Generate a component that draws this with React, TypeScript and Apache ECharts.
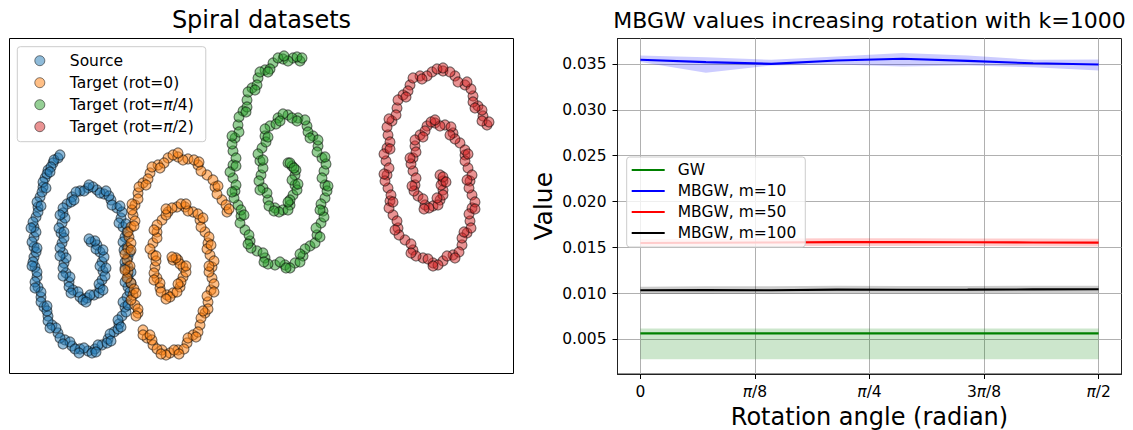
import React, { useEffect, useRef } from "react";
import * as echarts from "echarts";

// ---------- Left panel: spiral point clouds ----------
const SOURCE_PTS: number[][] = [
  [58,158],[53,163],[48,170],[45,178],[43,187],[40,197],[38,207],[36,217],[34,227],[34,237],[34,247],[34,257],[35,267],[37,277],[38,287],[41,297],[44,307],[48,316],[52,325],[58,333],[65,340],[72,346],[80,349],[88,351],[95,349],[102,345],[108,339],[114,332],[119,324],[122,316],[125,307],[127,297],[128,287],[128,277],[128,267],[128,257],[127,247],[125,237],[123,227],[121,218],[117,208],[111,200],[104,194],[97,190],[88,188],[80,191],[72,197],[67,204],[63,213],[62,223],[61,233],[62,243],[63,253],[64,263],[66,273],[69,282],[73,290],[80,297],[87,298],[94,295],[100,288],[102,280],[103,271],[102,262],[100,252],[97,245],[91,242],
  [54,160],[51,167],[47,174],[43,182],[42,192],[37,202],[38,212],[33,222],[36,232],[32,242],[36,252],[33,262],[37,272],[35,282],[41,292],[41,302],[47,311],[48,321],[56,328],[60,338],[70,342],[75,349],[84,348],[92,353],[98,345],[107,343],[110,334],[118,329],[118,320],[126,312],[123,302],[130,292],[125,282],[131,272],[125,262],[130,252],[123,242],[127,232],[119,223],[122,212],[112,205],[109,196],[100,193],[93,187],[84,191],[76,192],[71,202],[63,208],[65,218],[59,228],[64,238],[60,248],[66,258],[63,268],[70,277],[69,287],[78,292],[83,300],[90,295],[99,293],[99,284],[105,276],[100,266],[104,257],[96,249],[95,241],
  [60,155],[50,172],[46,188],[41,206],[31,228],[37,248],[32,266],[35,288],[47,306],[50,328],[63,344],[79,353],[96,352],[111,341],[121,327],[128,305],[131,283],[125,268],[124,250],[126,224],[120,206],[106,191],[89,185],[74,200],[60,215],[64,232],[60,256],[63,276],[71,293],[86,302],[103,290],[106,268],[103,250],[89,239],
];

const ROT0_PTS: number[][] = [
  [227,212],[222,200],[215,187],[207,175],[198,165],[188,159],[178,157],[168,158],[158,165],[150,173],[143,183],[138,193],[135,205],[133,215],[131,227],[129,237],[128,248],[127,260],[128,272],[131,283],[133,295],[135,305],[138,313],[143,330],[147,338],[153,345],[162,350],[170,353],[178,350],[187,343],[193,335],[200,325],[205,313],[208,302],[211,290],[212,278],[212,267],[210,255],[208,243],[205,232],[200,220],[193,212],[185,207],[177,207],[168,212],[162,220],[157,232],[153,243],[153,255],[155,267],[157,278],[160,288],[167,295],[173,293],[180,287],[183,277],[183,267],[178,260],[173,260],
  [226,205],[217,194],[213,180],[201,171],[194,160],[183,160],[173,155],[164,163],[152,167],[148,179],[139,187],[138,199],[132,210],[135,221],[128,232],[131,243],[125,254],[130,266],[127,278],[134,289],[131,300],[138,309],[143,335],[152,340],[157,349],[166,355],[174,350],[184,349],[188,338],[198,332],[201,318],[208,309],[207,296],[214,284],[209,272],[214,261],[207,249],[209,237],[201,227],[198,214],[188,211],[181,204],[172,208],[166,215],[157,225],[157,238],[150,249],[156,261],[154,273],[160,283],[161,292],[170,297],[177,292],[181,282],[186,272],[180,264],[176,258],
  [229,209],[218,186],[199,162],[178,153],[160,168],[146,185],[132,204],[134,226],[131,250],[125,270],[136,293],[136,316],[150,335],[161,354],[179,354],[196,337],[203,311],[214,292],[209,266],[211,245],[203,218],[186,204],[166,209],[154,230],[156,256],[154,280],[166,299],[178,284],[186,266],[172,257],
];

const ROT45_PTS: number[][] = [
  [300,61],[293,58],[283,59],[273,63],[265,70],[258,78],[252,88],[247,100],[243,111],[238,125],[235,138],[233,151],[233,165],[233,178],[235,191],[238,205],[241,216],[245,230],[250,241],[257,251],[265,258],[275,265],[285,265],[295,263],[303,256],[310,246],[317,235],[321,223],[323,211],[325,198],[325,185],[324,171],[322,158],[318,146],[313,136],[307,126],[298,118],[288,115],[278,118],[270,126],[265,136],[262,148],[260,161],[261,175],[263,188],[268,200],[275,208],[283,210],[290,205],[293,195],[295,185],[295,175],[292,166],[288,163],
  [297,57],[288,61],[278,58],[270,69],[260,72],[257,85],[248,92],[247,107],[239,117],[239,132],[232,144],[236,158],[230,172],[236,185],[234,198],[241,210],[240,223],[249,235],[251,248],[263,253],[268,264],[280,262],[290,268],[300,262],[305,249],[315,243],[316,228],[324,217],[321,204],[327,191],[322,178],[326,164],[317,152],[318,140],[308,132],[305,120],[292,118],[283,114],[276,124],[265,129],[266,142],[258,154],[263,168],[259,181],[267,193],[269,206],[279,212],[288,210],[290,200],[297,190],[292,180],[296,170],[290,163],
  [302,58],[284,56],[268,72],[255,90],[246,112],[232,136],[236,166],[232,192],[244,215],[248,244],[264,262],[286,268],[300,254],[320,237],[320,210],[328,186],[325,157],[310,138],[297,121],[280,121],[268,137],[263,160],[260,190],[274,211],[288,202],[298,184],[294,168],
];

const ROT90_PTS: number[][] = [
  [487,125],[483,116],[478,106],[473,96],[465,85],[455,76],[443,71],[432,72],[420,76],[410,85],[403,95],[397,108],[392,121],[388,135],[387,148],[386,161],[387,175],[388,188],[390,201],[393,215],[398,228],[405,240],[413,250],[423,258],[433,263],[443,261],[453,255],[462,245],[467,233],[470,221],[472,208],[472,195],[470,181],[468,168],[465,155],[460,143],[453,133],[445,125],[435,123],[427,126],[420,135],[415,146],[413,158],[413,171],[415,185],[418,196],[425,205],[433,206],[440,200],[443,190],[443,181],[440,175],
  [482,121],[482,110],[473,102],[471,89],[458,82],[450,72],[437,69],[427,76],[413,78],[408,91],[398,100],[396,115],[387,127],[390,142],[384,154],[389,168],[385,181],[391,195],[389,208],[397,221],[399,235],[411,244],[416,256],[428,259],[438,265],[447,256],[459,252],[462,238],[471,228],[469,214],[475,202],[469,188],[472,175],[465,161],[465,150],[455,139],[451,127],[440,126],[431,122],[425,131],[415,140],[416,152],[411,164],[416,178],[414,191],[423,199],[429,208],[438,205],[443,195],[441,185],[443,177],
  [489,122],[475,108],[467,82],[443,68],[422,79],[406,97],[389,119],[390,149],[384,174],[393,202],[395,230],[411,253],[433,266],[455,258],[464,232],[475,209],[467,180],[468,154],[450,135],[435,120],[423,137],[410,158],[412,186],[424,209],[437,198],[446,182],
];

const SPIRAL_NAMES = ["Source", "Target (rot=0)", "Target (rot=π/4)", "Target (rot=π/2)"];

// ---------- Right panel: MBGW values vs rotation ----------
const ANGLES = [0, 0.2244, 0.4488, 0.6732, 0.8976, 1.122, 1.3464, 1.5708];

const GW_MEAN = [0.00566, 0.00566, 0.00566, 0.00566, 0.00566, 0.00566, 0.00566, 0.00566];
const GW_LOW = [0.00285, 0.00285, 0.00285, 0.00285, 0.00285, 0.00285, 0.00285, 0.00285];
const GW_HIGH = [0.0062, 0.0062, 0.0062, 0.0062, 0.0062, 0.0062, 0.0062, 0.0062];

const M10_MEAN = [0.03544, 0.03519, 0.035, 0.03536, 0.03555, 0.03532, 0.03506, 0.03493];
const M10_LOW = [0.03519, 0.03402, 0.03482, 0.03493, 0.0347, 0.03482, 0.03464, 0.03427];
const M10_HIGH = [0.03591, 0.03573, 0.03544, 0.0358, 0.03617, 0.03591, 0.03544, 0.03547];

const M50_MEAN = [0.0155, 0.01553, 0.01556, 0.0156, 0.0156, 0.01558, 0.01556, 0.01554];
const M50_LOW = [0.01515, 0.01515, 0.01515, 0.01518, 0.01518, 0.01516, 0.01515, 0.01512];
const M50_HIGH = [0.0159, 0.01595, 0.016, 0.01602, 0.01602, 0.016, 0.01598, 0.01595];

const M100_MEAN = [0.01036, 0.01038, 0.01036, 0.01042, 0.01041, 0.01042, 0.01045, 0.01047];
const M100_LOW = [0.00995, 0.00995, 0.00997, 0.01, 0.01, 0.01002, 0.01005, 0.01005];
const M100_HIGH = [0.01075, 0.01078, 0.01078, 0.01085, 0.01083, 0.01082, 0.01085, 0.01085];

const LINE_NAMES = ["GW", "MBGW, m=10", "MBGW, m=50", "MBGW, m=100"];

const X_TICKS = [0, 0.3927, 0.7854, 1.1781, 1.5708];
const X_TICK_LABELS = ["0", "π/8", "π/4", "3π/8", "π/2"];
const Y_TICKS = [0.005, 0.01, 0.015, 0.02, 0.025, 0.03, 0.035];

const FONT = "DejaVu Sans";

function richPi(s: string): string {
  const parts = s.split("π");
  let out = "";
  parts.forEach((p, i) => {
    if (p) out += `{n|${p}}`;
    if (i < parts.length - 1) out += "{i|π}";
  });
  return out;
}

function richStyles(size: number, lh: number) {
  return {
    n: { fontSize: size, fontFamily: FONT, color: "#000", lineHeight: lh },
    i: { fontSize: size, fontFamily: FONT, color: "#000", fontStyle: "italic", lineHeight: lh },
  };
}

function band(name: string, low: number[], high: number[], fill: string) {
  return {
    type: "custom",
    name,
    xAxisIndex: 1,
    yAxisIndex: 1,
    silent: true,
    z: 1,
    data: ANGLES.map((a, i) => [a, low[i], high[i]]),
    encode: { x: 0, y: [1, 2] },
    renderItem: (params: any, api: any) => {
      if (params.dataIndex !== 0) return null;
      const pts: number[][] = [];
      for (let i = 0; i < ANGLES.length; i++) pts.push(api.coord([ANGLES[i], high[i]]));
      for (let i = ANGLES.length - 1; i >= 0; i--) pts.push(api.coord([ANGLES[i], low[i]]));
      return { type: "polygon", shape: { points: pts }, style: { fill } };
    },
  };
}

function line(name: string, mean: number[], color: string) {
  return {
    type: "line",
    name,
    xAxisIndex: 1,
    yAxisIndex: 1,
    symbol: "none",
    z: 3,
    lineStyle: { color, width: 2.1 },
    itemStyle: { color },
    data: ANGLES.map((a, i) => [a, mean[i]]),
  };
}

const SCATTER_COLORS = ["#1f77b4", "#ff7f0e", "#2ca02c", "#d62728"];
const SCATTER_ALPHA = [
  "rgba(31,119,180,0.5)",
  "rgba(255,127,14,0.5)",
  "rgba(44,160,44,0.5)",
  "rgba(214,39,40,0.5)",
];

export default function App() {
  const ref = useRef<HTMLDivElement>(null);
  useEffect(() => {
    if (!ref.current) return;
    const chart = echarts.init(ref.current, undefined, { renderer: "svg" });
    const spirals = [SOURCE_PTS, ROT0_PTS, ROT45_PTS, ROT90_PTS];

    const xLabelFmt = (v: number) => {
      let best = 0;
      X_TICKS.forEach((t, i) => {
        if (Math.abs(t - v) < Math.abs(X_TICKS[best] - v)) best = i;
      });
      return richPi(X_TICK_LABELS[best]);
    };

    const option: any = {
      animation: false,
      textStyle: { fontFamily: FONT },
      graphic: [
        {
          type: "text",
          x: 261.5,
          y: 20,
          style: { text: "Spiral datasets", fontSize: 24, fontFamily: FONT, fill: "#000", align: "center", verticalAlign: "middle" },
        },
        {
          type: "text",
          x: 869.5,
          y: 20.7,
          style: { text: "MBGW values increasing rotation with k=1000", fontSize: 22, fontFamily: FONT, fill: "#000", align: "center", verticalAlign: "middle" },
        },
      ],
      grid: [
        { left: 9.5, top: 38.5, width: 504, height: 335, show: true, borderColor: "#000", borderWidth: 1, outerBoundsMode: "none", containLabel: false },
        { left: 617.5, top: 38.5, width: 504, height: 335.5, show: true, borderColor: "#222", borderWidth: 1, outerBoundsMode: "none", containLabel: false },
      ],
      xAxis: [
        { gridIndex: 0, type: "value", min: 9.5, max: 513.5, show: false },
        {
          gridIndex: 1,
          type: "value",
          min: -0.0785,
          max: 1.6493,
          name: "Rotation angle (radian)",
          nameLocation: "middle",
          nameGap: 18,
          nameTextStyle: { fontSize: 24, fontFamily: FONT, color: "#000" },
          axisLine: { show: true, onZero: false, lineStyle: { color: "#222", width: 1 } },
          axisTick: { show: true, length: 5, customValues: X_TICKS, lineStyle: { color: "#000" } },
          axisLabel: { customValues: X_TICKS, formatter: xLabelFmt, margin: 10, rich: richStyles(15.5, 16) },
          splitLine: { show: true, lineStyle: { color: "#b0b0b0", width: 1 } },
        },
      ],
      yAxis: [
        { gridIndex: 0, type: "value", min: 38.5, max: 373.5, inverse: true, show: false },
        {
          gridIndex: 1,
          type: "value",
          min: 0.00124,
          max: 0.03776,
          name: "Value",
          nameLocation: "middle",
          nameRotate: 90,
          nameGap: 62,
          nameTextStyle: { fontSize: 25, fontFamily: FONT, color: "#000" },
          axisLine: { show: true, onZero: false, lineStyle: { color: "#222", width: 1 } },
          axisTick: { show: true, length: 5, customValues: Y_TICKS, lineStyle: { color: "#000" } },
          axisLabel: {
            customValues: Y_TICKS,
            formatter: (v: number) => v.toFixed(3),
            margin: 11,
            fontSize: 15.5,
            fontFamily: FONT,
            color: "#000",
          },
          splitLine: { show: true, lineStyle: { color: "#b0b0b0", width: 1 } },
        },
      ],
      legend: [
        {
          orient: "vertical",
          left: 17.3,
          top: 46.7,
          padding: [6, 12, 7, 17],
          itemWidth: 10,
          itemHeight: 10,
          itemGap: 6,
          selectedMode: false,
          backgroundColor: "rgba(255,255,255,0.8)",
          borderColor: "#cccccc",
          borderWidth: 1,
          borderRadius: 3,
          data: SPIRAL_NAMES.map((n, i) => ({
            name: n,
            icon: "circle",
            itemStyle: { color: SCATTER_ALPHA[i], borderColor: "rgba(0,0,0,0.5)", borderWidth: 1, opacity: 1 },
          })),
          formatter: (name: string) => "{s| }" + richPi(name),
          textStyle: { rich: { s: { width: 20, lineHeight: 18 }, ...richStyles(15.5, 18) } },
        },
        {
          orient: "vertical",
          left: 626.7,
          top: 157,
          padding: [5, 9, 6, 5],
          itemWidth: 33,
          itemHeight: 2.2,
          itemGap: 5,
          icon: "rect",
          selectedMode: false,
          backgroundColor: "rgba(255,255,255,0.8)",
          borderColor: "#cccccc",
          borderWidth: 1,
          borderRadius: 3,
          data: LINE_NAMES,
          formatter: (name: string) => "{s| }" + richPi(name),
          textStyle: { rich: { s: { width: 8, lineHeight: 18 }, ...richStyles(15.5, 18) } },
        },
      ],
      series: [
        ...spirals.map((pts, i) => ({
          type: "scatter",
          name: SPIRAL_NAMES[i],
          xAxisIndex: 0,
          yAxisIndex: 0,
          symbol: "circle",
          symbolSize: 10,
          silent: true,
          itemStyle: { color: SCATTER_COLORS[i], borderColor: "#000", borderWidth: 1.2, opacity: 0.5 },
          data: pts,
        })),
        band("GW band", GW_LOW, GW_HIGH, "rgba(0,128,0,0.2)"),
        line(LINE_NAMES[0], GW_MEAN, "#008000"),
        band("m10 band", M10_LOW, M10_HIGH, "rgba(0,0,255,0.2)"),
        line(LINE_NAMES[1], M10_MEAN, "#0000ff"),
        band("m50 band", M50_LOW, M50_HIGH, "rgba(255,0,0,0.2)"),
        line(LINE_NAMES[2], M50_MEAN, "#ff0000"),
        band("m100 band", M100_LOW, M100_HIGH, "rgba(0,0,0,0.2)"),
        line(LINE_NAMES[3], M100_MEAN, "#000000"),
      ],
    };
    chart.setOption(option);
    return () => chart.dispose();
  }, []);

  return (
    <div
      ref={ref}
      style={{ position: "absolute", left: 0, top: 0, width: 1133, height: 430, background: "#fff" }}
    />
  );
}
